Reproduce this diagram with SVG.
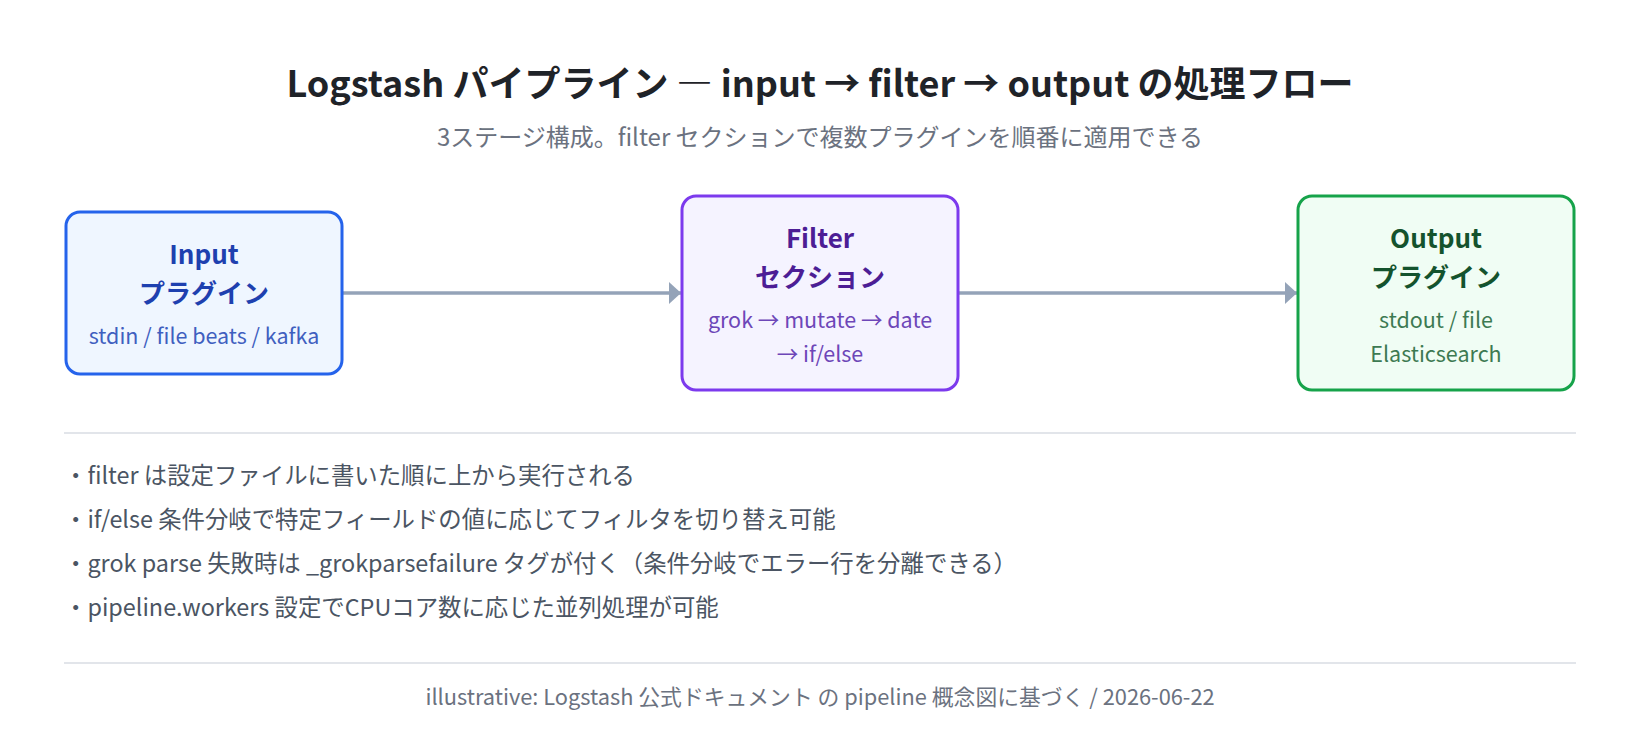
<svg xmlns="http://www.w3.org/2000/svg" width="1640" height="756" viewBox="0 0 1640 756">
  <style>
    text { font-family: "Noto Sans CJK JP", "Noto Sans", sans-serif; }
    .title { font-size: 36px; font-weight: 700; fill: #1f2328; }
    .subtitle { font-size: 24px; fill: #6b7280; }
    .nt { font-size: 26px; font-weight: 600; }
    .ns { font-size: 21.5px; }
    .bullet { font-size: 23.4px; fill: #4b5563; }
    .footer { font-size: 21.8px; fill: #6b7280; }
    .conn { stroke: #94a3b8; stroke-width: 3.5; fill: none; }
    .divider { stroke: #e2e5ea; stroke-width: 2; }
  </style>
  <defs>
    <marker id="arrow" viewBox="0 0 12 22" refX="12" refY="11" markerWidth="12" markerHeight="22" markerUnits="userSpaceOnUse" orient="auto">
      <path d="M0,0 L12,11 L0,22 z" fill="#94a3b8"/>
    </marker>
  </defs>
  <rect width="1640" height="756" fill="#ffffff"/>

  <text class="title" x="820" y="97" text-anchor="middle">Logstash パイプライン ― input → filter → output の処理フロー</text>
  <text class="subtitle" x="820" y="146" text-anchor="middle">3ステージ構成。filter セクションで複数プラグインを順番に適用できる</text>

  <g id="connectors">
    <line class="conn" x1="342" y1="293" x2="681" y2="293" marker-end="url(#arrow)"/>
    <line class="conn" x1="958" y1="293" x2="1297" y2="293" marker-end="url(#arrow)"/>
  </g>

  <g id="node-input">
    <rect x="66" y="212" width="276" height="162" rx="14" fill="#eff6ff" stroke="#2563eb" stroke-width="3"/>
    <text class="nt" x="204" y="264" text-anchor="middle" fill="#1e40af">Input</text>
    <text class="nt" x="204" y="303" text-anchor="middle" fill="#1e40af">プラグイン</text>
    <text class="ns" x="204" y="344" text-anchor="middle" fill="#3f5fbf">stdin / file beats / kafka</text>
  </g>

  <g id="node-filter">
    <rect x="682" y="196" width="276" height="194" rx="14" fill="#f5f3ff" stroke="#7c3aed" stroke-width="3"/>
    <text class="nt" x="820" y="248" text-anchor="middle" fill="#4c1d95">Filter</text>
    <text class="nt" x="820" y="287" text-anchor="middle" fill="#4c1d95">セクション</text>
    <text class="ns" x="820" y="328" text-anchor="middle" fill="#6d46b8">grok → mutate → date</text>
    <text class="ns" x="820" y="362" text-anchor="middle" fill="#6d46b8">→ if/else</text>
  </g>

  <g id="node-output">
    <rect x="1298" y="196" width="276" height="194" rx="14" fill="#f0fdf4" stroke="#16a34a" stroke-width="3"/>
    <text class="nt" x="1436" y="248" text-anchor="middle" fill="#14532d">Output</text>
    <text class="nt" x="1436" y="287" text-anchor="middle" fill="#14532d">プラグイン</text>
    <text class="ns" x="1436" y="328" text-anchor="middle" fill="#3d7a52">stdout / file</text>
    <text class="ns" x="1436" y="362" text-anchor="middle" fill="#3d7a52">Elasticsearch</text>
  </g>

  <line class="divider" x1="64" y1="433" x2="1576" y2="433"/>

  <text class="bullet" x="64" y="484">・filter は設定ファイルに書いた順に上から実行される</text>
  <text class="bullet" x="64" y="528">・if/else 条件分岐で特定フィールドの値に応じてフィルタを切り替え可能</text>
  <text class="bullet" x="64" y="572">・grok parse 失敗時は _grokparsefailure タグが付く（条件分岐でエラー行を分離できる）</text>
  <text class="bullet" x="64" y="616">・pipeline.workers 設定でCPUコア数に応じた並列処理が可能</text>

  <line class="divider" x1="64" y1="663" x2="1576" y2="663"/>

  <text class="footer" x="820" y="705" text-anchor="middle">illustrative: Logstash 公式ドキュメント の pipeline 概念図に基づく / 2026-06-22</text>
</svg>
